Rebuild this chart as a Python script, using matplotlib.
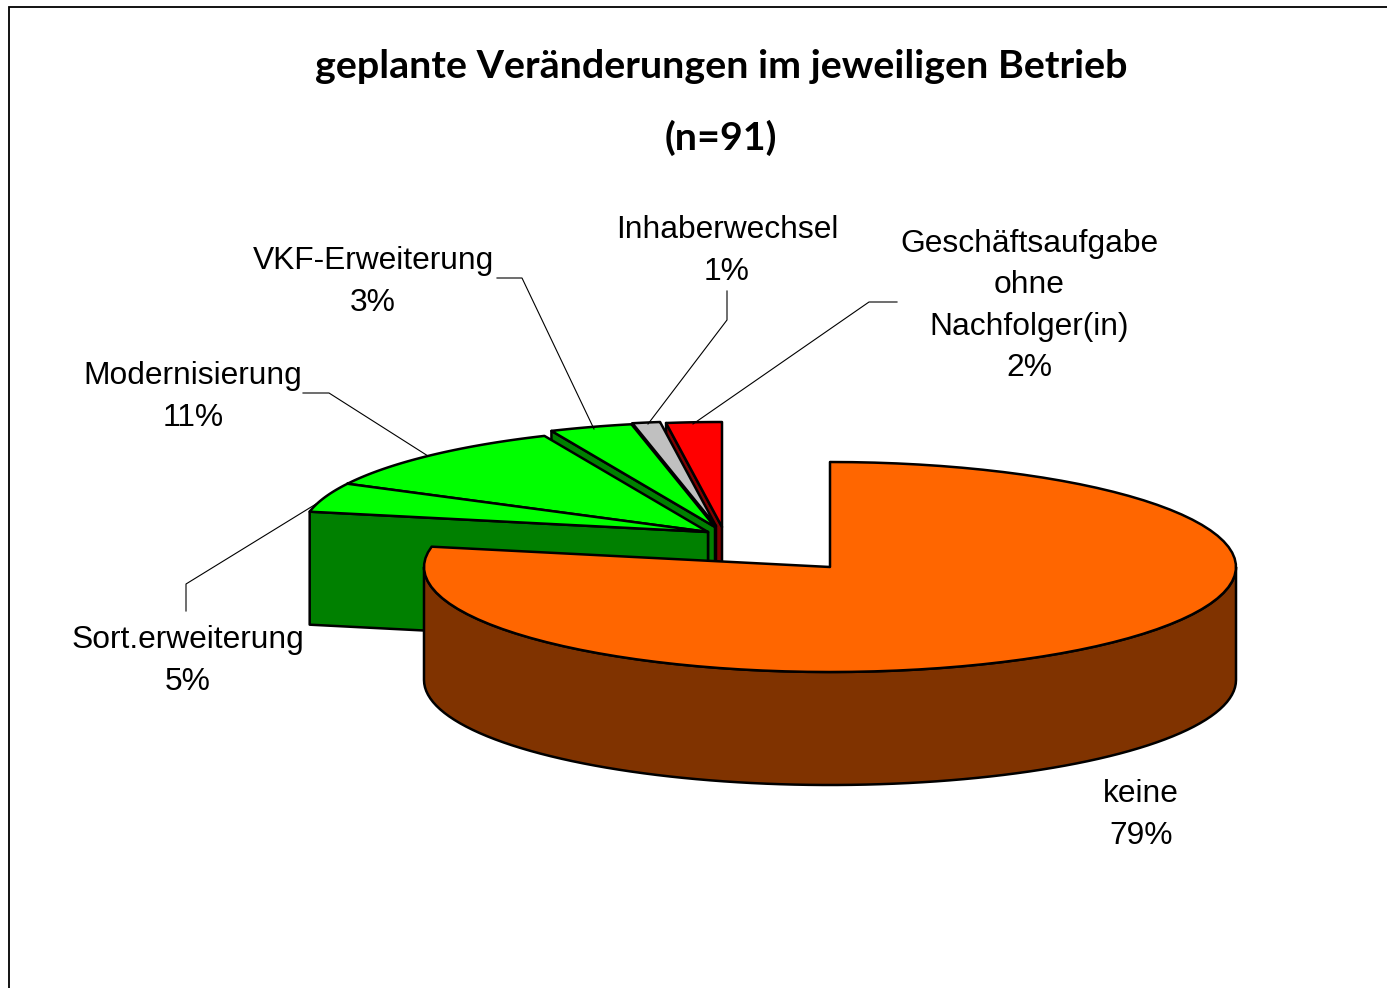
import numpy as np
import matplotlib
matplotlib.use("Agg")
import matplotlib.pyplot as plt
from matplotlib.patches import Polygon

# Data: order runs clockwise from 12 o'clock, starting with "keine"
categories = ["keine", "Sort.erweiterung", "Modernisierung", "VKF-Erweiterung",
              "Inhaberwechsel", "Geschäftsaufgabe\nohne\nNachfolger(in)"]
printed_pct = ["79%", "5%", "11%", "3%", "1%", "2%"]
# slice sizes
shares = [78.1, 4.5, 10.8, 3.3, 1.1, 2.2]

top_colors = ["#FF6600", "#00FF00", "#00FF00", "#00FF00", "#C0C0C0", "#FF0000"]
side_colors = ["#803300", "#008000", "#008000", "#008000", "#606060", "#800000"]
apexes = [(830, 567), (708, 532), (708, 532), (715, 527), (716, 526), (722, 527)]
label_pos = [(1141, 815), (188, 661), (193, 397), (373, 282), (727, 251), (1029, 306)]
leaders = [None,
           [(186, 611), (186, 584), (316, 504)],
           [(303, 393), (329, 393), (428, 456)],
           [(497, 278), (522, 278), (594, 429)],
           [(727, 291), (727, 320), (648, 424)],
           [(897, 302), (869, 302), (693, 424)]]

RX, RY, DEPTH = 406, 105, 113
LW = 1.8

fig = plt.figure(figsize=(13.87, 9.88), dpi=100, facecolor="white")
ax = fig.add_axes([0, 0, 1, 1])
ax.set_xlim(0, 1387)
ax.set_ylim(988, 0)
ax.axis("off")

plt.rcParams["font.family"] = ["Liberation Sans", "DejaVu Sans"]

# chart frame (only left and top edges are visible in the crop)
ax.plot([9, 9, 1387], [988, 7, 7], color="black", lw=1.3, solid_joinstyle="miter")


def rim(apex, a0, a1, n=90):
    t = np.radians(np.linspace(a0, a1, n))
    return apex[0] + RX * np.sin(t), apex[1] - RY * np.cos(t)


edges = np.cumsum([0] + shares) / sum(shares) * 360
# back-to-front painter's order: last slice first, "keine" last
for i in range(len(shares) - 1, -1, -1):
    a0, a1, apex = edges[i], edges[i + 1], apexes[i]
    xs, ys = rim(apex, a0, a1)
    side = dict(fc=side_colors[i], ec="black", lw=LW, joinstyle="round")
    # the radial cut face on the clockwise-start side is the one facing the viewer
    ax.add_patch(Polygon([(xs[0], ys[0]), apex, (apex[0], apex[1] + DEPTH),
                          (xs[0], ys[0] + DEPTH)], **side))
    # outer wall: only the front half of the rim is visible
    lo, hi = max(a0, 90), min(a1, 270)
    if lo < hi:
        wx, wy = rim(apex, lo, hi)
        wall = np.r_[np.c_[wx, wy], np.c_[wx[::-1], wy[::-1] + DEPTH]]
        ax.add_patch(Polygon(wall, **side))
    # top face
    ax.add_patch(Polygon(np.r_[[apex], np.c_[xs, ys]], fc=top_colors[i], ec="black",
                         lw=LW, joinstyle="round"))

for line in leaders:
    if line:
        lx, ly = zip(*line)
        ax.plot(lx, ly, color="black", lw=0.8, zorder=5)

for cat, pct, (x, y) in zip(categories, printed_pct, label_pos):
    ax.text(x, y, f"{cat}\n{pct}", ha="center", va="center", fontsize=22.9,
            linespacing=1.49, color="black", zorder=6, family="Liberation Sans")

ax.text(721, 66, "geplante Veränderungen im jeweiligen Betrieb", ha="center", va="center",
        fontsize=28.4, fontweight="bold", family="Lato", color="black")
ax.text(721, 138, "(n=91)", ha="center", va="center",
        fontsize=28.4, fontweight="bold", family="Lato", color="black")

fig.savefig("out.png", dpi=100, facecolor="white")
